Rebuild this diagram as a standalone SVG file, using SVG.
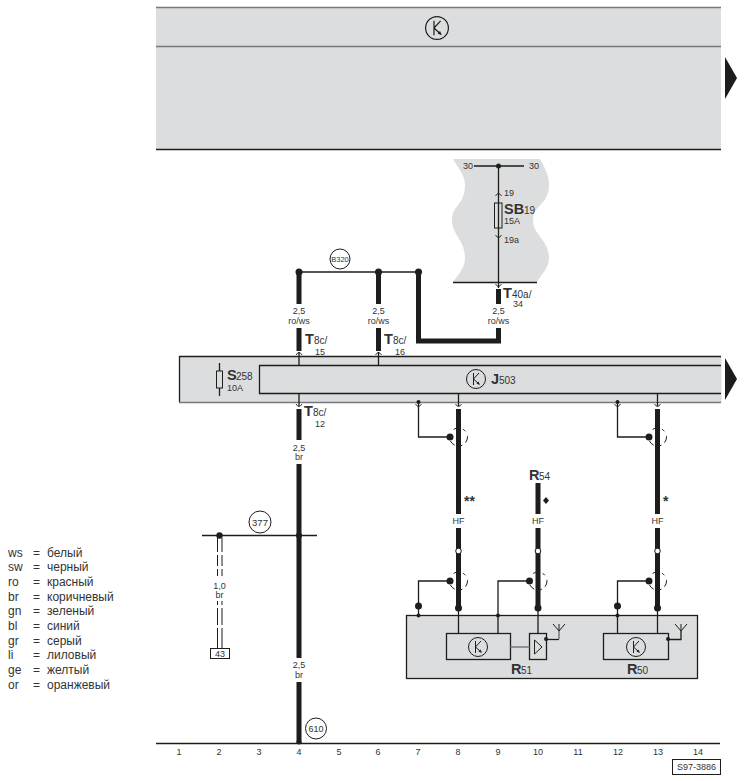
<svg xmlns="http://www.w3.org/2000/svg" width="744" height="781" viewBox="0 0 744 781">
<style>
text{font-family:"Liberation Sans",Arial,sans-serif;fill:#333;font-size:8.5px}
.m{text-anchor:middle}
.b{font-weight:bold;font-size:14.5px}
.s{font-size:9px}
.u{font-size:10px}
.n{font-size:9px}
.l{font-size:12px}
.t{stroke:#1d1d1b;stroke-width:1.3;fill:none}
.w{stroke:#1d1d1b;stroke-width:5;fill:none}
.g{stroke:#77787b;stroke-width:1.5;fill:none}
.p{fill:#dcddde}
.d{fill:#1d1d1b}
.box{fill:#dcddde;stroke:#1d1d1b;stroke-width:1.3}
.c{fill:#fff;stroke:#1d1d1b;stroke-width:1}
.dash{stroke:#1d1d1b;stroke-width:1;fill:none;stroke-dasharray:6 4 3 5 6 13}
.ar{stroke:#1d1d1b;stroke-width:.9;fill:none}
</style>
<defs>
<g id="k"><circle r="9.5" fill="none" stroke="#1d1d1b" stroke-width="1"/><path d="M-2.5-6V6M-2.5 0L3-6M-2.5 0L3 5" fill="none" stroke="#1d1d1b" stroke-width="1"/><path d="M4 6L0.5 4.500L2.500 2.500Z" fill="#1d1d1b"/></g>
<path id="up" d="M-3 3Q0-2 3 3" class="ar"/>
<path id="dn" d="M-3-3Q0 2 3-3" class="ar"/>
<g id="ant"><path d="M-6-7L0 0L6-7M0-7V0" fill="none" stroke="#1d1d1b" stroke-width="1"/><path d="M0 0V8" stroke="#77787b" stroke-width="1.500"/></g>
</defs>

<g id="panel-top">
<rect class="p" x="156" y="7" width="565" height="142"/>
<path class="g" d="M156 7.500H721M156 46.500H721"/>
<path d="M156 149.500H721" stroke="#1d1d1b" stroke-width="1.500"/>
<use href="#k" transform="translate(437 28) scale(1.2)"/>
<path class="d" d="M725 57L737 78L725 99Z"/>
</g>

<g id="fuse-box-sb19">
<path class="p" d="M453 159H540C545 168 549 175 549 185C549 205 533 205 533 220C533 235 549 240 549 258C549 268 541 275 537 282H453C458 275 465 268 465 258C465 240 452 235 452 220C452 205 465 205 465 185C465 175 458 168 453 159Z"/>
<path class="t" d="M453 282.500H537M474 166H524M498.500 166V288"/>
<circle class="d" cx="498.500" cy="166" r="2.500"/>
<text class="s" x="463" y="169">30</text>
<text class="s" x="529" y="169">30</text>
<use href="#up" x="498.500" y="193"/>
<text class="s" x="504" y="196">19</text>
<rect x="494.500" y="203" width="7.500" height="25" fill="none" stroke="#1d1d1b" stroke-width="1"/>
<text class="b" x="504" y="214">SB</text><text class="u" x="524" y="214">19</text>
<text class="s" x="504" y="224">15A</text>
<use href="#dn" x="498.500" y="238"/>
<text class="s" x="504" y="243">19a</text>
</g>

<g id="module-s258">
<rect class="p" x="179.500" y="356.500" width="542" height="46"/>
<path class="t" d="M721 356.500H179.500V402"/>
<path class="g" d="M179 402.500H721"/>
<path class="t" d="M219.500 363V396"/>
<rect x="216.500" y="371" width="6" height="17" fill="#dcddde" stroke="#1d1d1b" stroke-width="1"/>
<text class="b" x="227" y="380">S</text><text class="u" x="236" y="380">258</text>
<text class="s" x="227" y="391">10A</text>
</g>
<g id="module-j503">
<path class="t" d="M721 365.500H259.500V393.500H721"/>
<use href="#k" transform="translate(476 379)"/>
<text class="b" x="491" y="384">J</text><text class="u" x="499" y="384">503</text>
</g>
<path id="arrow-mid" class="d" d="M725 358L737 379L725 400Z"/>

<g id="module-r50-r51">
<rect class="box" x="406.500" y="615.500" width="291" height="63"/>
<g id="r51">
<rect x="446.500" y="633.500" width="64" height="26" fill="none" stroke="#1d1d1b" stroke-width="1.300"/>
<use href="#k" transform="translate(478 647)"/>
<rect x="529.500" y="633.500" width="17" height="26" fill="none" stroke="#1d1d1b" stroke-width="1.300"/>
<path d="M534.500 640V654L542 647Z" fill="none" stroke="#1d1d1b" stroke-width="1"/>
<path class="g" d="M510.500 647H529.500"/>
<circle class="d" cx="546" cy="639" r="2"/>
<path class="t" d="M546 639.500H559"/>
<use href="#ant" x="559" y="631"/>
<text class="b" x="511" y="674">R</text><text class="u" x="521" y="674">51</text>
</g>
<g id="r50">
<rect x="603.500" y="633.500" width="65" height="26" fill="none" stroke="#1d1d1b" stroke-width="1.300"/>
<use href="#k" transform="translate(636 647)"/>
<circle class="d" cx="668" cy="639" r="2"/>
<path class="t" d="M668 639.500H681V631"/>
<path d="M675 624L681 631L687 624M681 624V631" fill="none" stroke="#1d1d1b" stroke-width="1"/>
<text class="b" x="627" y="674">R</text><text class="u" x="637" y="674">50</text>
</g>
</g>

<g id="connectors">
<path class="t" d="M299 272H418.500"/>
<circle class="d" cx="299" cy="272" r="3.500"/><circle class="d" cx="378.500" cy="272" r="3.500"/><circle class="d" cx="418.500" cy="272" r="3.500"/>
<path class="w" d="M299 272V304M299 328V351M378.500 272V304M378.500 328V351"/>
<path class="w" d="M418.500 272V341H498.500V328"/>
<path class="w" d="M498.500 289V304"/>
<use href="#dn" x="498.500" y="287"/>
<path class="t" d="M299 352V365.500M378.500 352V365.500M299 393.500V406M458.500 393.500V406M657.500 393.500V406"/>
<use href="#up" x="299" y="352"/><use href="#up" x="378.500" y="352"/>
<use href="#dn" x="299" y="407"/><use href="#dn" x="458.500" y="407"/><use href="#dn" x="657.500" y="407"/>
<use href="#dn" x="418.500" y="407"/><use href="#dn" x="617.500" y="407"/>
<path class="w" d="M299 409V440M299 464V658M299 682V743"/>
<circle class="d" cx="299" cy="742" r="2.500"/>
<path class="t" d="M202 535.500H317"/>
<circle class="d" cx="219.500" cy="535.500" r="3.200"/>
<circle class="d" cx="299" cy="535.500" r="3"/>
<path d="M217.500 538V552M222 538V552M217.500 555V566M222 555V566M217.500 569V576M222 569V576M217.500 601V605M222 601V605M217.500 608V625M222 608V625M217.500 628V648M222 628V648" fill="none" stroke="#1d1d1b" stroke-width="1"/>
<path class="w" d="M458.500 409V514M458.500 528V608M538 483V514M538 528V608M657.500 409V514M657.500 528V608"/>
<circle class="c" cx="458.500" cy="551" r="2.800"/><circle class="c" cx="538" cy="551" r="2.800"/><circle class="c" cx="657.500" cy="551" r="2.800"/>
<circle class="d" cx="458.500" cy="608" r="3.500"/><circle class="d" cx="538" cy="608" r="3.500"/><circle class="d" cx="657.500" cy="608" r="3.500"/>
<path class="t" d="M458.500 608V633.500M538 608V633.500M657.500 608V633.500"/>
<path class="t" d="M418.500 402V437H450M617.500 402V437H649"/>
<circle class="d" cx="418.500" cy="402" r="2"/><circle class="d" cx="617.500" cy="402" r="2"/>
<circle class="d" cx="450" cy="437" r="3.500"/><circle class="d" cx="649" cy="437" r="3.500"/>
<circle class="dash" cx="458.500" cy="437" r="9"/><circle class="dash" cx="657.500" cy="437" r="9"/>
<path class="t" d="M450 581H418.500V615.500M529.500 581H498V633.500M649 581H617.500V633.500"/>
<circle class="d" cx="450" cy="581" r="3.500"/><circle class="d" cx="529.500" cy="581" r="3.500"/><circle class="d" cx="649" cy="581" r="3.500"/>
<circle class="dash" cx="458.500" cy="581" r="9"/><circle class="dash" cx="538" cy="581" r="9"/><circle class="dash" cx="657.500" cy="581" r="9"/>
<circle class="d" cx="418.500" cy="606" r="3.500"/><circle class="d" cx="617.500" cy="606" r="3.500"/>
<circle class="d" cx="418.500" cy="615.500" r="2"/><circle class="d" cx="498" cy="615.500" r="2"/><circle class="d" cx="617.500" cy="615.500" r="2"/>
</g>

<g id="wire-labels">
<text class="s m" x="299" y="314">2,5</text><text class="s m" x="299" y="324">ro/ws</text>
<text class="s m" x="378.500" y="314">2,5</text><text class="s m" x="378.500" y="324">ro/ws</text>
<text class="s m" x="498.500" y="314">2,5</text><text class="s m" x="498.500" y="324">ro/ws</text>
<text class="b" x="305" y="344">T</text><text class="u" x="314" y="344">8c/</text><text class="s" x="315" y="355">15</text>
<text class="b" x="384" y="344">T</text><text class="u" x="393" y="344">8c/</text><text class="s" x="395" y="355">16</text>
<text class="b" x="304" y="416">T</text><text class="u" x="313" y="416">8c/</text><text class="s" x="315" y="427">12</text>
<text class="b" x="503" y="298">T</text><text class="u" x="512" y="298">40a/</text><text class="s" x="513" y="307">34</text>
<text class="s m" x="299" y="451">2,5</text><text class="s m" x="299" y="460">br</text>
<text class="s m" x="299" y="668">2,5</text><text class="s m" x="299" y="678">br</text>
<text class="s m" x="219.500" y="589">1,0</text><text class="s m" x="219.500" y="598">br</text>
<text class="s m" x="458.500" y="524">HF</text><text class="s m" x="538" y="524">HF</text><text class="s m" x="657.500" y="524">HF</text>
<text x="464" y="506" style="font-size:14px;font-weight:bold">**</text>
<text x="663" y="506" style="font-size:14px;font-weight:bold">*</text>
<path class="d" d="M546 497L549 500.500L546 504L543 500.500Z"/>
<text class="b" x="529" y="480">R</text><text class="u" x="539" y="480">54</text>
</g>

<g id="B320"><circle cx="340" cy="259" r="10" fill="#fff" stroke="#1d1d1b"/><text class="m" x="340" y="262" style="font-size:7.500px">B320</text></g>
<g id="n377"><circle cx="260" cy="522" r="11" fill="#fff" stroke="#1d1d1b"/><text class="m" x="260" y="525.500" style="font-size:9.500px">377</text></g>
<g id="n610"><circle cx="316" cy="728.500" r="10.500" fill="#fff" stroke="#1d1d1b"/><text class="m" x="316" y="732" style="font-size:9px">610</text></g>
<g id="n43"><rect x="210.500" y="648.500" width="19" height="10" fill="#fff" stroke="#1d1d1b" stroke-width="1"/><text class="m" x="220" y="657" style="font-size:9px">43</text></g>

<g id="axis">
<path d="M156 743.500H720" stroke="#1d1d1b" stroke-width="1.300"/>
<text class="n m" x="179" y="755">1</text><text class="n m" x="219" y="755">2</text><text class="n m" x="259" y="755">3</text><text class="n m" x="299" y="755">4</text><text class="n m" x="339" y="755">5</text><text class="n m" x="378" y="755">6</text><text class="n m" x="418" y="755">7</text><text class="n m" x="458" y="755">8</text><text class="n m" x="498" y="755">9</text><text class="n m" x="538" y="755">10</text><text class="n m" x="578" y="755">11</text><text class="n m" x="618" y="755">12</text><text class="n m" x="658" y="755">13</text><text class="n m" x="698" y="755">14</text>
<rect x="672.500" y="759.500" width="48" height="15" fill="#fff" stroke="#1d1d1b" stroke-width="1"/>
<text class="m" x="696.500" y="770" style="font-size:9px">S97-3886</text>
</g>

<g id="legend">
<text class="l" x="8" y="557">ws</text><text class="l" x="33" y="557">=</text><text class="l" x="47" y="557">белый</text>
<text class="l" x="8" y="571">sw</text><text class="l" x="33" y="571">=</text><text class="l" x="47" y="571">черный</text>
<text class="l" x="8" y="586">ro</text><text class="l" x="33" y="586">=</text><text class="l" x="47" y="586">красный</text>
<text class="l" x="8" y="601">br</text><text class="l" x="33" y="601">=</text><text class="l" x="47" y="601">коричневый</text>
<text class="l" x="8" y="615">gn</text><text class="l" x="33" y="615">=</text><text class="l" x="47" y="615">зеленый</text>
<text class="l" x="8" y="630">bl</text><text class="l" x="33" y="630">=</text><text class="l" x="47" y="630">синий</text>
<text class="l" x="8" y="645">gr</text><text class="l" x="33" y="645">=</text><text class="l" x="47" y="645">серый</text>
<text class="l" x="8" y="659">li</text><text class="l" x="33" y="659">=</text><text class="l" x="47" y="659">лиловый</text>
<text class="l" x="8" y="674">ge</text><text class="l" x="33" y="674">=</text><text class="l" x="47" y="674">желтый</text>
<text class="l" x="8" y="689">or</text><text class="l" x="33" y="689">=</text><text class="l" x="47" y="689">оранжевый</text>
</g>
</svg>
